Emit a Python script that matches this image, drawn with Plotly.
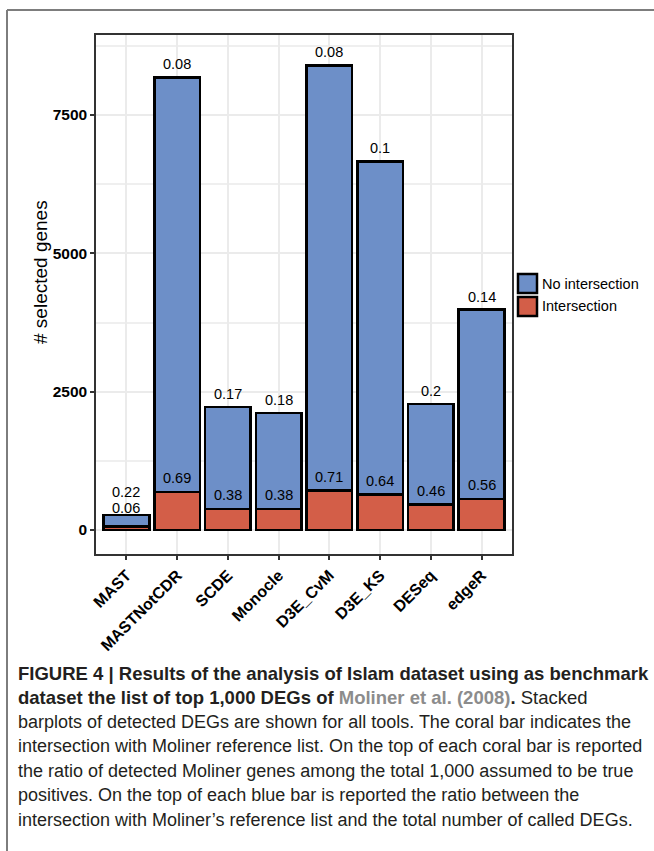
import plotly.graph_objects as go

# ---------------- data ----------------
methods = ["MAST", "MASTNotCDR", "SCDE", "Monocle", "D3E_CvM", "D3E_KS", "DESeq", "edgeR"]
total_selected = [272, 8180, 2226, 2118, 8398, 6660, 2280, 3982]
intersection = [60, 690, 380, 380, 710, 640, 460, 560]
ratio_total = ["0.22", "0.08", "0.17", "0.18", "0.08", "0.1", "0.2", "0.14"]
ratio_inter = ["0.06", "0.69", "0.38", "0.38", "0.71", "0.64", "0.46", "0.56"]
no_intersection = [t - i for t, i in zip(total_selected, intersection)]

y_ticks = [0, 2500, 5000, 7500]
y_tick_text = ["0", "2500", "5000", "7500"]

# ---------------- layout geometry ----------------
W, H = 654, 851
PL, PR, PT, PB = 96, 512, 35, 554           # plot panel in pixels
YMIN, YMAX = -434, 8946
PPU = (PB - PT) / (YMAX - YMIN)            # pixels per data unit

def xp(px):
    return (px - PL) / (PR - PL)

def yp(py):
    return (PB - py) / (PB - PT)

BLUE = "#6D8FC8"
RED = "#D35E48"
FONT = "Liberation Sans, Arial, Helvetica, sans-serif"

fig = go.Figure()
fig.add_trace(go.Bar(
    x=methods, y=intersection, name="Intersection", width=0.9,
    marker=dict(color=RED, line=dict(color="black", width=2.5)),
    showlegend=False,
))
fig.add_trace(go.Bar(
    x=methods, y=no_intersection, base=intersection, name="No intersection", width=0.9,
    marker=dict(color=BLUE, line=dict(color="black", width=2.5)),
    showlegend=False,
))

annotations = []
LBL = 14.5
for m, t, i, rt, ri in zip(methods, total_selected, intersection, ratio_total, ratio_inter):
    inter_shift = 14
    tot_shift = 13
    gap = (t - i) * PPU + tot_shift - inter_shift
    if gap < 15:  # labels would collide: stack them
        inter_shift = 19
        tot_shift = inter_shift + 15.5 - (t - i) * PPU
    annotations.append(dict(x=m, y=i, xref="x", yref="y", text=ri, showarrow=False,
                            yanchor="middle", yshift=inter_shift, borderpad=0,
                            font=dict(family=FONT, size=LBL, color="black")))
    annotations.append(dict(x=m, y=t, xref="x", yref="y", text=rt, showarrow=False,
                            yanchor="middle", yshift=tot_shift, borderpad=0,
                            font=dict(family=FONT, size=LBL, color="black")))

# y axis title
annotations.append(dict(x=xp(40), y=yp(272), xref="paper", yref="paper",
                        text="# selected genes", textangle=-90, showarrow=False,
                        xanchor="center", yanchor="middle",
                        font=dict(family=FONT, size=19, color="black")))

# legend (drawn manually to match ggplot keys)
legend_items = [("No intersection", BLUE, 274, 293, 284), ("Intersection", RED, 297, 316, 306)]
shapes = []
for label, col, y0, y1, yc in legend_items:
    shapes.append(dict(type="rect", xref="paper", yref="paper",
                       x0=xp(518), x1=xp(537), y0=yp(y1), y1=yp(y0),
                       fillcolor=col, line=dict(color="black", width=2.5)))
    annotations.append(dict(x=xp(540), y=yp(yc), xref="paper", yref="paper", text=label,
                            showarrow=False, xanchor="left", yanchor="middle",
                            font=dict(family=FONT, size=14.5, color="black")))

# outer frame
shapes.append(dict(type="line", xref="paper", yref="paper", x0=xp(7), x1=xp(660),
                   y0=yp(10), y1=yp(10), line=dict(color="#7d7d7d", width=2)))
shapes.append(dict(type="line", xref="paper", yref="paper", x0=xp(7), x1=xp(7),
                   y0=yp(10), y1=yp(860), line=dict(color="#7d7d7d", width=2)))

# caption
grey = "#8c8c8c"
caption_lines = [
    "<b>FIGURE 4 | Results of the analysis of Islam dataset using as benchmark</b>",
    "<b>dataset the list of top 1,000 DEGs of <span style='color:%s'>Moliner et al. (2008)</span>.</b> Stacked" % grey,
    "barplots of detected DEGs are shown for all tools. The coral bar indicates the",
    "intersection with Moliner reference list. On the top of each coral bar is reported",
    "the ratio of detected Moliner genes among the total 1,000 assumed to be true",
    "positives. On the top of each blue bar is reported the ratio between the",
    "intersection with Moliner\u2019s reference list and the total number of called DEGs.",
]
caption_y = [673, 697, 722, 746, 771, 795, 820]
for k, (line, cy) in enumerate(zip(caption_lines, caption_y)):
    size = 18.5 if k < 2 else 18.0
    annotations.append(dict(x=xp(16), y=yp(cy), xref="paper", yref="paper", text=line,
                            showarrow=False, xanchor="left", yanchor="middle", align="left",
                            font=dict(family=FONT, size=size, color="#231f20")))

fig.update_layout(
    width=W, height=H,
    margin=dict(l=PL, r=W - PR, t=PT, b=H - PB, pad=0),
    paper_bgcolor="white", plot_bgcolor="white",
    barmode="stack", bargap=0.1,
    font=dict(family=FONT, color="black"),
    annotations=annotations, shapes=shapes,
    xaxis=dict(
        type="category", categoryorder="array", categoryarray=methods,
        range=[-0.6, len(methods) - 0.4],
        showgrid=True, gridcolor="#EBEBEB", gridwidth=2,
        showline=True, linecolor="#333333", linewidth=1.5, mirror=True,
        ticks="outside", ticklen=4, tickwidth=1.5, tickcolor="#333333",
        tickangle=-45, tickfont=dict(family=FONT, size=16, color="black", weight="bold"),
        zeroline=False,
    ),
    yaxis=dict(
        range=[YMIN, YMAX], tickvals=y_ticks, ticktext=y_tick_text,
        showgrid=True, gridcolor="#EBEBEB", gridwidth=2,
        minor=dict(tickvals=[1250, 3750, 6250, 8750], showgrid=True,
                   gridcolor="#EFEFEF", gridwidth=1.5, ticks=""),
        showline=True, linecolor="#333333", linewidth=1.5, mirror=True,
        ticks="outside", ticklen=4, tickwidth=1.5, tickcolor="#333333",
        tickfont=dict(family=FONT, size=15.5, color="black", weight="bold"),
        zeroline=False,
    ),
)

fig.write_html("out.html", config={"displayModeBar": False},
               post_script="document.body.style.margin='0px';")
